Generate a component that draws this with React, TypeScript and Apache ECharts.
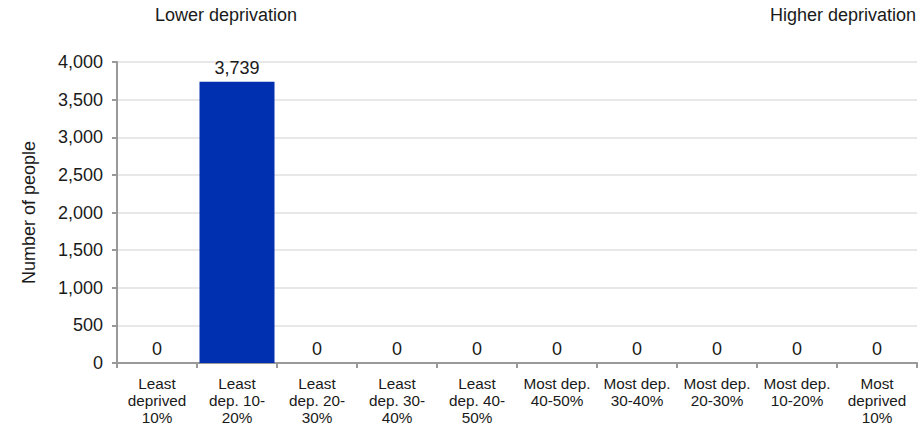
import React, { useEffect, useRef } from "react";
import * as echarts from "echarts";

const categories = [
  "Least\ndeprived\n10%",
  "Least\ndep. 10-\n20%",
  "Least\ndep. 20-\n30%",
  "Least\ndep. 30-\n40%",
  "Least\ndep. 40-\n50%",
  "Most dep.\n40-50%",
  "Most dep.\n30-40%",
  "Most dep.\n20-30%",
  "Most dep.\n10-20%",
  "Most\ndeprived\n10%",
];
const values = [0, 3739, 0, 0, 0, 0, 0, 0, 0, 0];
const yTicks = { min: 0, max: 4000, interval: 500 };

const FONT = "Liberation Sans, Arial, sans-serif";

export default function App() {
  const ref = useRef<HTMLDivElement>(null);
  useEffect(() => {
    document.body.style.margin = "0";
    if (!ref.current) return;
    const chart = echarts.init(ref.current, undefined, { renderer: "svg" });
    chart.setOption({
      animation: false,
      textStyle: { fontFamily: FONT },
      grid: { left: 117, right: 5, top: 62, bottom: 65, containLabel: false },
      graphic: [
        {
          type: "text",
          left: 155,
          top: 6,
          style: { text: "Lower deprivation", font: `18px ${FONT}`, fill: "#1a1a1a" },
        },
        {
          type: "text",
          right: 6,
          top: 6,
          style: { text: "Higher deprivation", font: `18px ${FONT}`, fill: "#1a1a1a" },
        },
      ],
      xAxis: {
        type: "category",
        data: categories,
        axisLine: { lineStyle: { color: "#999", width: 2 } },
        axisTick: { show: true, length: 5, lineStyle: { color: "#999", width: 2 } },
        axisLabel: {
          interval: 0,
          color: "#1a1a1a",
          fontSize: 15.3,
          lineHeight: 17,
          margin: 12,
          fontFamily: FONT,
        },
      },
      yAxis: {
        type: "value",
        min: yTicks.min,
        max: yTicks.max,
        interval: yTicks.interval,
        name: "Number of people",
        nameLocation: "middle",
        nameGap: 79,
        nameTextStyle: { fontSize: 18, color: "#1a1a1a", fontFamily: FONT },
        axisLine: { show: true, lineStyle: { color: "#999", width: 2 } },
        axisTick: { show: true, length: 5, lineStyle: { color: "#999", width: 2 } },
        splitLine: { lineStyle: { color: "#e8e8e8", width: 2 } },
        axisLabel: {
          color: "#1a1a1a",
          fontSize: 18,
          margin: 14,
          fontFamily: FONT,
          formatter: (v: number) => v.toLocaleString("en-US"),
        },
      },
      series: [
        {
          type: "bar",
          data: values,
          barWidth: 75,
          itemStyle: { color: "#0030b0" },
          label: {
            show: true,
            position: "top",
            distance: 5,
            color: "#1a1a1a",
            fontSize: 18,
            fontFamily: FONT,
            formatter: (p: any) => (p.value as number).toLocaleString("en-US"),
          },
        },
      ],
    });
    return () => chart.dispose();
  }, []);
  return <div ref={ref} style={{ width: 922, height: 428 }} />;
}
